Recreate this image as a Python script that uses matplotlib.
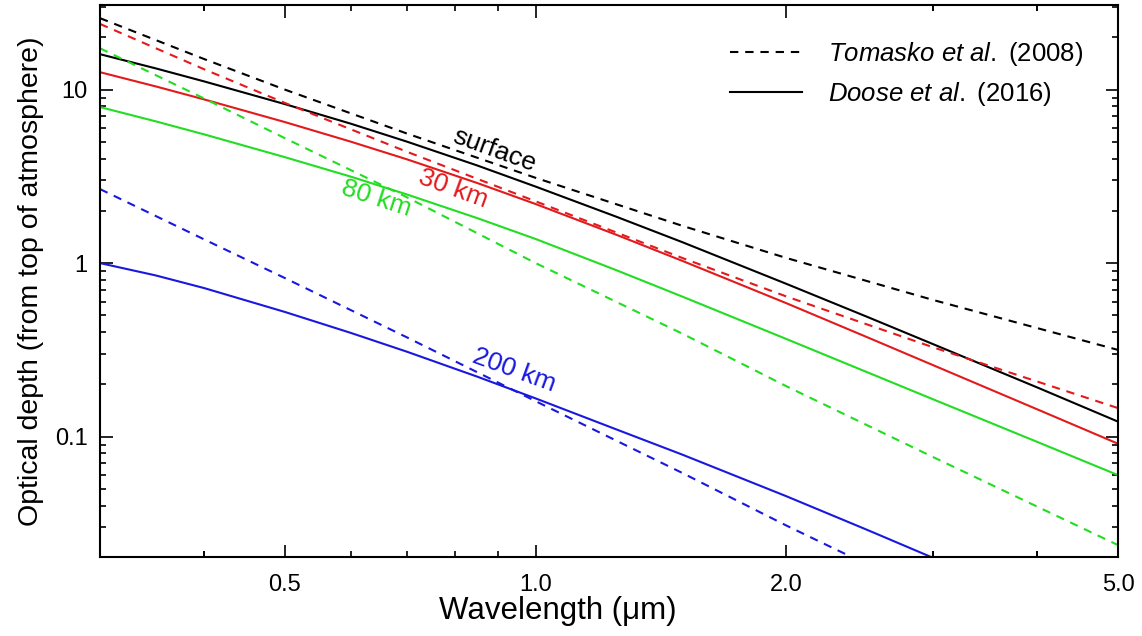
import matplotlib
matplotlib.use('Agg')
import matplotlib.pyplot as plt
from matplotlib.ticker import FixedLocator, LogLocator, NullFormatter, FixedFormatter

plt.rcParams['font.family'] = ['Liberation Sans', 'DejaVu Sans']
plt.rcParams['mathtext.fontset'] = 'custom'
plt.rcParams['mathtext.it'] = 'Liberation Sans:italic'
plt.rcParams['mathtext.rm'] = 'Liberation Sans'

#%% values

# Tomasko et al. (2008), dashed
wl_tomasko = [0.3, 0.4, 0.5, 0.7, 1.0, 1.5, 2.0, 3.0, 5.0]
tom_surface = [25.8, 15.0, 10.0, 5.59, 3.10, 1.64, 1.07, 0.613, 0.316]
tom_30km = [23.9, 13.1, 8.38, 4.39, 2.27, 1.07, 0.642, 0.327, 0.146]
tom_80km = [17.3, 8.89, 5.25, 2.40, 1.0, 0.392, 0.195, 0.0762, 0.0237]
tom_200km = [2.67, 1.37, 0.82, 0.374, 0.160, 0.0617, 0.0307, 0.0120, 0.0040]

# Doose et al. (2016), solid
wl_doose = [0.3, 0.35, 0.4, 0.5, 0.6, 0.7, 0.85, 1.0, 1.25, 1.5, 2.0, 2.5, 3.0, 4.0, 5.0]
doo_surface = [16.0, 13.25, 11.15, 8.25, 6.36, 5.02, 3.66, 2.76, 1.85, 1.32,
               0.759, 0.490, 0.341, 0.192, 0.122]
doo_30km = [12.6, 10.43, 8.78, 6.50, 5.01, 3.97, 2.90, 2.19, 1.456, 1.03,
            0.587, 0.374, 0.258, 0.1436, 0.091]
doo_80km = [7.93, 6.56, 5.52, 4.08, 3.15, 2.49, 1.82, 1.377, 0.910, 0.641,
            0.365, 0.235, 0.164, 0.0932, 0.060]
doo_200km = [1.0, 0.849, 0.718, 0.523, 0.396, 0.309, 0.222, 0.166, 0.110, 0.0787,
             0.0453, 0.0290, 0.0200, 0.0111, 0.0070]

colors = {'surface': 'black', '30km': '#e31a1c', '80km': '#22dd22', '200km': '#1818e0'}

#%% plot

fig = plt.figure(figsize=(11.42, 6.36), dpi=100)
ax = fig.add_axes([0.0876, 0.124, 0.979 - 0.0876, 0.992 - 0.124])

dash = (4, 3.3)
for key, tom, doo in [('surface', tom_surface, doo_surface),
                      ('30km', tom_30km, doo_30km),
                      ('80km', tom_80km, doo_80km),
                      ('200km', tom_200km, doo_200km)]:
    ax.plot(wl_tomasko, tom, color=colors[key], lw=1.5, dashes=dash)
    ax.plot(wl_doose, doo, color=colors[key], lw=1.5)

ax.set_xscale('log')
ax.set_yscale('log')
ax.set_xlim(0.3, 5.0)
ax.set_ylim(0.0202, 30.7)

ax.xaxis.set_major_locator(FixedLocator([0.5, 1.0, 2.0, 5.0]))
ax.xaxis.set_major_formatter(FixedFormatter(['0.5', '1.0', '2.0', '5.0']))
ax.xaxis.set_minor_locator(LogLocator(base=10, subs=(0.3, 0.4, 0.6, 0.7, 0.8, 0.9, 3, 4)))
ax.xaxis.set_minor_formatter(NullFormatter())
ax.yaxis.set_major_locator(FixedLocator([0.1, 1, 10]))
ax.yaxis.set_major_formatter(FixedFormatter(['0.1', '1', '10']))
ax.yaxis.set_minor_locator(LogLocator(base=10, subs=range(2, 10)))
ax.yaxis.set_minor_formatter(NullFormatter())

ax.tick_params(which='both', direction='in', top=True, right=True, labelsize=17, width=1.2)
ax.tick_params(which='major', length=9)
ax.tick_params(which='minor', length=4.5)
ax.tick_params(axis='x', which='major', pad=12)
ax.tick_params(axis='y', which='major', pad=9)
for s in ax.spines.values():
    s.set_linewidth(1.5)

ax.set_xlabel('Wavelength (μm)', fontsize=22.5)
ax.set_ylabel('Optical depth (from top of atmosphere)', fontsize=20.5)
ax.xaxis.set_label_coords(0.45, -0.07)
ax.yaxis.set_label_coords(-0.055, 0.5)

# curve labels
ax.text(0.893, 4.45, 'surface', color=colors['surface'], fontsize=19, rotation=-20,
        ha='center', va='center')
ax.text(0.795, 2.7, '30 km', color=colors['30km'], fontsize=19, rotation=-20,
        ha='center', va='center')
ax.text(0.644, 2.37, '80 km', color=colors['80km'], fontsize=19, rotation=-18,
        ha='center', va='center')
ax.text(0.941, 0.2417, '200 km', color=colors['200km'], fontsize=19, rotation=-20,
        ha='center', va='center')

# legend
ax.plot([], [], color='black', lw=1.5, dashes=dash, label=r'$\mathit{Tomasko\ et\ al.}$ (2008)')
ax.plot([], [], color='black', lw=1.5, label=r'$\mathit{Doose\ et\ al.}$ (2016)')
ax.legend(loc='upper left', bbox_to_anchor=(0.609, 0.955), bbox_transform=ax.transAxes,
          borderaxespad=0, frameon=False, fontsize=18.5, handlelength=2.8,
          handletextpad=1.0, labelspacing=0.45)

fig.savefig('out.png', dpi=100)
